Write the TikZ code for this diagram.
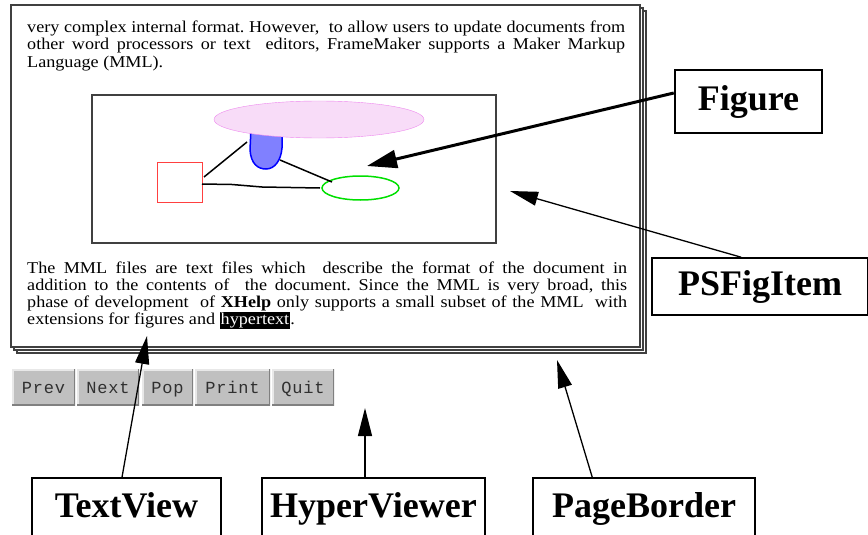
\documentclass[tikz,border=0pt]{standalone}
\usepackage{fontspec}
\setmainfont{Liberation Serif}
\newfontfamily\bodyfont[FakeStretch=1.1]{Liberation Serif}
\newfontfamily\lblfont{Liberation Serif}
\newfontfamily\btnfont[LetterSpace=5]{Liberation Mono}
\usetikzlibrary{arrows.meta,calc,shapes.geometric}
\definecolor{framegray}{HTML}{404040}
\definecolor{btngray}{HTML}{C0C0C0}
\definecolor{btnlight}{HTML}{E8E8E8}
\definecolor{btndark}{HTML}{808080}
\definecolor{btntext}{HTML}{303030}
\definecolor{pinkfill}{HTML}{F8DCF8}
\definecolor{pinkline}{HTML}{EE88EE}
\definecolor{bluefill}{HTML}{8080FF}
\definecolor{greenline}{HTML}{00E000}
\definecolor{redline}{HTML}{FF4040}
\tikzset{
  txt/.style={inner sep=0pt, anchor=base west, font=\bodyfont\fontsize{16.5}{19}\selectfont\frenchspacing},
  lblbox/.style={draw=black, line width=1.5pt, fill=white, inner sep=0pt,
    font=\lblfont\bfseries\fontsize{36}{40}\selectfont, text height=25pt},
  lowbox/.style={lblbox, text depth=14pt, minimum height=67pt},
  ptr/.style={draw=black, line width=1.3pt, -{Triangle[length=28pt,width=14pt]}},
  btn/.style={fill=btngray, inner sep=0pt, minimum height=36pt,
    font=\btnfont\fontsize{17}{20}\selectfont, text=btntext, text height=12pt, text depth=0pt,
    path picture={
      \draw[btnlight, line width=3pt] (path picture bounding box.south west) -- (path picture bounding box.north west) -- (path picture bounding box.north east);
      \draw[btndark, line width=3pt] (path picture bounding box.north east) -- (path picture bounding box.south east) -- (path picture bounding box.south west);
    }},
  pageframe/.style={draw=framegray, line width=1.3pt, fill=white}
}
\begin{document}
\begin{tikzpicture}[x=1pt,y=-1pt]
\useasboundingbox (0,0) rectangle (868,535);
\clip (0,0) rectangle (868,535);
\fill[white] (0,0) rectangle (868,535);

% stacked page frame
\draw[pageframe] (17,11) rectangle (646,353);
\draw[pageframe] (14,8) rectangle (643,350);
\draw[pageframe] (11,5) rectangle (640,347);

% paragraph 1
\node[txt] (p1a) at (27,33) {\makebox[598pt][s]{very complex internal format. However,\ \ to allow users to update documents from}};
\node[txt] (p1b) at (27,50) {\makebox[598pt][s]{other word processors or text\ \ editors, FrameMaker supports a Maker Markup}};
\node[txt] (p1c) at (27,67) {Language (MML).};

% figure box
\draw[draw=framegray, line width=1.3pt] (92,95) rectangle (496,243);
\draw[draw=blue, fill=bluefill, line width=1.5pt]
  (251,128) -- (250,150) .. controls (251,164) and (258,169) .. (266,169)
  .. controls (275,169) and (281,160) .. (282,148) -- (282,128) -- cycle;
\node[draw=pinkline, fill=pinkfill, ellipse, minimum width=210pt, minimum height=37pt, inner sep=0pt] (pink) at (319,119.5) {};
\node[draw=redline, line width=1pt, minimum width=45pt, minimum height=40pt, inner sep=0pt] (redbox) at (179.5,182) {};
\node[draw=greenline, line width=1.5pt, ellipse, minimum width=77pt, minimum height=24pt, inner sep=0pt] (green) at (360.5,188) {};
\coordinate (l1a) at (204,177); \coordinate (l1b) at (247,142);
\coordinate (l2a) at (280,160); \coordinate (l2b) at (332,182);
\coordinate (l3a) at (202,184); \coordinate (l3b) at (320,188);
\draw[line width=1.5pt] (l1a) -- (l1b);
\draw[line width=1.5pt] (l2a) -- (l2b);
\draw[line width=1.5pt] (l3a) -- (232,184.5) -- (262,187) -- (l3b);

% paragraph 2
\node[txt] (p2a) at (27,273) {\makebox[600pt][s]{The MML files are text files which\ \ describe the format of the document in}};
\node[txt] (p2b) at (27,290) {\makebox[600pt][s]{addition to the contents of\ \ the document. Since the MML is very broad, this}};
\node[txt] (p2c) at (27,307) {\makebox[600pt][s]{phase of development\ \ of \textbf{XHelp} only supports a small subset of the MML\ \ with}};
\node[txt] (p2d) at (27,324) {extensions for figures and {\setlength{\fboxsep}{1pt}\colorbox{black}{\textcolor{white}{hypertext}}}.};

% buttons
\node[btn, minimum width=63pt] (bprev) at (43.5,387) {Prev};
\node[btn, minimum width=62pt] (bnext) at (108,387) {Next};
\node[btn, minimum width=51pt] (bpop) at (167.5,387) {Pop};
\node[btn, minimum width=75pt] (bprint) at (232.5,387) {Print};
\node[btn, minimum width=62pt] (bquit) at (303,387) {Quit};

% label boxes
\node[lblbox, line width=2.5pt, minimum width=147pt, minimum height=63pt] (fig) at (748.5,101.5) {Figure};
\node[lblbox, minimum width=216pt, minimum height=57pt] (psf) at (760,286.5) {PSFigItem};
\node[lowbox, minimum width=189pt] (tv) at (126.5,511.5) {TextView};
\node[lowbox, minimum width=223pt] (hv) at (373.5,511.5) {HyperViewer};
\node[lowbox, minimum width=222pt] (pb) at (644,511.5) {PageBorder};

% arrow targets
\coordinate (figtip) at (367,166);
\coordinate (psftip) at (510,191);
\coordinate (pbtip) at (557,360);
\coordinate (tvtip) at (147,336);
\coordinate (hvtip) at (365,408);

% arrows
\draw[line width=3pt, -{Triangle[length=30pt,width=18pt]}] ([yshift=8.5pt]fig.west) -- (figtip);
\draw[ptr] ([xshift=90pt]psf.north west) -- (psftip);
\draw[ptr] ([xshift=60pt]pb.north west) -- (pbtip);
\draw[ptr] ([xshift=-4.5pt]tv.north) -- (tvtip);
\draw[ptr] ([xshift=-8.5pt]hv.north) -- (hvtip);
\end{tikzpicture}
\end{document}
